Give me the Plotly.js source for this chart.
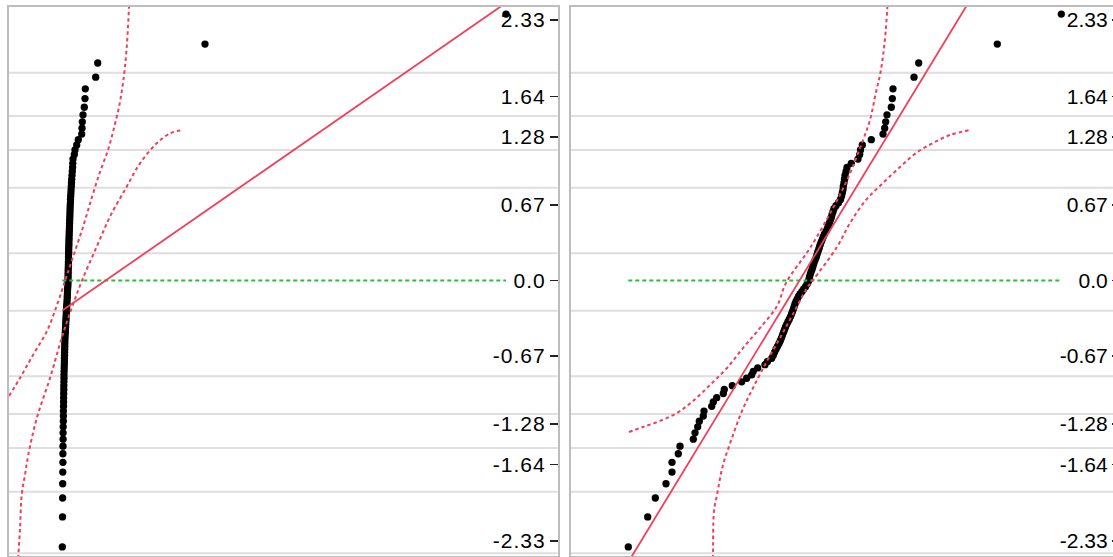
<!DOCTYPE html>
<html>
<head>
<meta charset="utf-8">
<script src="https://cdn.plot.ly/plotly-3.0.1.min.js"></script>
<style>
  html, body { margin: 0; padding: 0; overflow: hidden; background: #fff; }
  #chart { width: 1130px; height: 562px; }
  .ytick text { letter-spacing: 1px; }
</style>
</head>
<body>
<div id="chart"></div>
<script>
// Normal quantiles (rank based) shared by both panels
const quantiles = [-2.379,-2.111,-1.942,-1.815,-1.711,-1.624,-1.547,-1.479,-1.417,-1.360,
  -1.307,-1.257,-1.210,-1.166,-1.124,-1.084,-1.046,-1.009,-0.973,-0.939,
  -0.905,-0.873,-0.842,-0.811,-0.781,-0.752,-0.723,-0.695,-0.668,-0.641,
  -0.614,-0.588,-0.562,-0.537,-0.512,-0.487,-0.463,-0.439,-0.415,-0.391,
  -0.368,-0.345,-0.322,-0.299,-0.277,-0.253,-0.231,-0.209,-0.187,-0.164,
  -0.142,-0.120,-0.098,-0.076,-0.055,-0.033,-0.011,
  0.011,0.033,0.055,0.076,0.098,0.120,0.142,0.164,0.187,0.209,
  0.231,0.253,0.277,0.299,0.322,0.345,0.368,0.391,0.415,0.439,
  0.463,0.487,0.512,0.537,0.562,0.588,0.614,0.641,0.668,0.695,
  0.723,0.752,0.781,0.811,0.842,0.873,0.905,0.939,0.973,1.009,
  1.046,1.084,1.124,1.166,1.210,1.257,1.307,1.360,1.417,1.479,
  1.547,1.624,1.711,1.815,1.942,2.111,2.379];

// Left panel: raw values (sorted)
const rawValues = [12.46,12.50,12.52,12.54,12.56,12.58,12.58,12.60,12.62,12.62,
  12.64,12.66,12.68,12.68,12.70,12.72,12.72,12.74,12.76,12.76,
  12.78,12.80,12.80,12.82,12.84,12.86,12.88,12.88,12.90,12.92,
  12.94,12.96,12.96,12.98,13.00,13.04,13.06,13.08,13.12,13.14,
  13.16,13.20,13.22,13.26,13.28,13.32,13.34,13.38,13.40,13.44,
  13.46,13.48,13.50,13.52,13.56,13.58,13.60,13.60,13.62,13.62,
  13.64,13.64,13.66,13.68,13.68,13.70,13.70,13.72,13.74,13.74,
  13.76,13.78,13.78,13.80,13.82,13.84,13.86,13.88,13.90,13.92,
  13.94,13.96,13.98,14.00,14.02,14.04,14.08,14.10,14.14,14.18,
  14.22,14.26,14.30,14.34,14.40,14.46,14.52,14.56,14.60,14.86,
  15.00,15.34,15.66,16.34,16.40,16.46,16.60,16.86,17.00,17.06,
  19.14,19.54,41.00,101.20];

// Right panel: transformed values (sorted)
const transValues = [13.26,17.14,18.66,20.80,22.00,22.00,23.26,23.60,26.26,26.60,
  27.14,27.46,28.26,28.40,29.94,30.26,30.94,32.26,32.46,34.06,
  35.94,36.94,37.94,38.26,39.14,40.60,41.10,41.94,42.26,42.50,
  42.80,43.10,43.40,43.66,43.90,44.10,44.30,44.50,44.70,44.94,
  45.20,45.46,45.70,45.90,46.10,46.30,46.46,46.60,46.80,47.06,
  47.30,47.60,48.00,48.34,48.70,49.00,49.26,49.40,49.50,49.66,
  49.80,50.00,50.14,50.30,50.46,50.66,50.86,51.00,51.14,51.34,
  51.50,51.66,51.86,52.06,52.26,52.50,52.80,53.06,53.26,53.46,
  53.66,53.86,54.00,54.20,54.40,54.80,55.30,55.70,55.90,56.06,
  56.20,56.26,56.40,56.50,56.60,56.80,57.00,57.86,59.20,59.54,
  59.70,60.06,61.86,64.20,64.54,64.74,65.00,65.86,66.06,66.20,
  70.40,71.34,87.06,99.86];

// Fitted normal line parameters (mean, sd) per panel
const fitLeft = {mean: 21.12, sd: 32.3};
const fitRight = {mean: 47.5, sd: 13.62};

// Confidence band curves (value, quantile)
const bandLeftUpperX = [1.8,4.0,6.6,9.4,11.4,13.0,14.4,16.6,18.4,20.0,21.6,22.8,23.8,24.6,25.3,25.8,25.9];
const bandLeftUpperQ = [-1.031,-0.871,-0.665,-0.451,-0.219,-0.004,0.183,0.478,0.746,0.969,1.165,1.362,1.55,1.763,2.058,2.442,2.55];
const bandLeftLowerX = [3.5,3.66,4.0,4.34,5.0,5.66,7.34,10.0,12.34,14.34,16.34,19.34,22.0,25.34,28.0,31.34,34.0,36.66];
const bandLeftLowerQ = [-2.54,-2.455,-2.217,-1.913,-1.735,-1.556,-1.232,-0.871,-0.513,-0.246,-0.007,0.302,0.570,0.838,1.046,1.225,1.314,1.344];
const bandRightUpperX = [13.4,16.2,19.6,23.0,26.2,29.6,33.0,36.2,39.6,43.0,44.8,49.6,54.2,57.2,60.2,61.6,62.8,63.6,64.2,64.7,65.06,65.12];
const bandRightUpperQ = [-1.353,-1.308,-1.254,-1.183,-1.076,-0.933,-0.781,-0.603,-0.424,-0.228,-0.022,0.290,0.647,0.915,1.254,1.433,1.683,1.835,2.004,2.210,2.433,2.52];
const bandRightLowerX = [30.16,30.2,30.4,31.0,32.2,34.0,36.0,38.2,41.0,43.6,46.2,49.0,50.2,55.0,57.6,60.8,64.2,67.6,70.8,74.2,77.6,81.6];
const bandRightLowerQ = [-2.54,-2.46,-2.058,-1.915,-1.647,-1.406,-1.165,-0.960,-0.719,-0.513,-0.299,-0.067,0.004,0.299,0.513,0.719,0.871,1.013,1.138,1.228,1.299,1.344];

// Axis ticks (normal quantiles) and grid positions
const tickVals = [2.326,1.645,1.282,0.674,0,-0.674,-1.282,-1.645,-2.326];
const tickText = ['2.33','1.64','1.28','0.67','0.0','-0.67','-1.28','-1.64','-2.33'];
const gridVals = [1.855,1.469,1.165,0.829,0.243,-0.270,-0.855,-1.192,-1.496,-1.886,-2.436];

const RED = '#ef3f5a', GREEN = '#22c03c';

function panelTraces(vals, fit, bux, buq, blx, blq, xa, ya) {
  const xmin = Math.min(...vals), xmax = Math.max(...vals);
  return [
    {x: vals, y: quantiles, xaxis: xa, yaxis: ya, type: 'scatter', mode: 'markers',
     marker: {color: '#000', size: 7.3}, hoverinfo: 'skip'},
    {x: [xmin, xmax], y: [0, 0], xaxis: xa, yaxis: ya, type: 'scatter', mode: 'lines',
     line: {color: GREEN, width: 1.8, dash: '4px,3px'}, hoverinfo: 'skip'},
    {x: [xmin, xmax], y: [(xmin - fit.mean) / fit.sd, (xmax - fit.mean) / fit.sd], xaxis: xa, yaxis: ya,
     type: 'scatter', mode: 'lines', line: {color: RED, width: 1.8}, hoverinfo: 'skip'},
    {x: bux, y: buq, xaxis: xa, yaxis: ya, type: 'scatter', mode: 'lines',
     line: {color: RED, width: 2, dash: '3.5px,3px', shape: 'spline'}, hoverinfo: 'skip'},
    {x: blx, y: blq, xaxis: xa, yaxis: ya, type: 'scatter', mode: 'lines',
     line: {color: RED, width: 2, dash: '3.5px,3px', shape: 'spline'}, hoverinfo: 'skip'}
  ];
}

const data = [].concat(
  panelTraces(rawValues, fitLeft, bandLeftUpperX, bandLeftUpperQ, bandLeftLowerX, bandLeftLowerQ, 'x', 'y'),
  panelTraces(transValues, fitRight, bandRightUpperX, bandRightUpperQ, bandRightLowerX, bandRightLowerQ, 'x2', 'y2')
);

const W = 1130, H = 562;
const yDom = [(H - 556) / H, (H - 7) / H];
const xAxisBase = {range: [1.7, 111.5], showticklabels: false, ticks: '', showgrid: false, zeroline: false,
  showline: true, mirror: true, linecolor: '#bdbdbd', linewidth: 2, fixedrange: true};
const yAxisBase = {range: [-2.46, 2.442], side: 'right', showgrid: false, zeroline: false,
  showline: true, mirror: true, linecolor: '#bdbdbd', linewidth: 2,
  tickmode: 'array', tickvals: tickVals, ticktext: tickText,
  ticks: 'inside', ticklen: 8, tickwidth: 1.5, tickcolor: '#222',
  ticklabelposition: 'inside', ticklabelstandoff: 5,
  tickfont: {family: 'Liberation Sans, Arial, sans-serif', size: 21, color: '#000'}, fixedrange: true};

const shapes = [];
gridVals.forEach(g => {
  shapes.push({type: 'line', xref: 'x domain', yref: 'y', x0: 0, x1: 1, y0: g, y1: g,
    line: {color: '#dedede', width: 2}, layer: 'below'});
  shapes.push({type: 'line', xref: 'x2 domain', yref: 'y2', x0: 0, x1: 1, y0: g, y1: g,
    line: {color: '#dedede', width: 2}, layer: 'below'});
});

const layout = {
  width: W, height: H, margin: {l: 0, r: 0, t: 0, b: 0},
  paper_bgcolor: '#fff', plot_bgcolor: '#fff', showlegend: false,
  xaxis: Object.assign({}, xAxisBase, {domain: [8.5 / W, 557.5 / W], anchor: 'y'}),
  yaxis: Object.assign({}, yAxisBase, {domain: yDom, anchor: 'x'}),
  xaxis2: Object.assign({}, xAxisBase, {domain: [570.5 / W, 1119.5 / W], anchor: 'y2'}),
  yaxis2: Object.assign({}, yAxisBase, {domain: yDom, anchor: 'x2'}),
  shapes: shapes
};

Plotly.newPlot('chart', data, layout, {displayModeBar: false, staticPlot: true});
</script>
</body>
</html>
